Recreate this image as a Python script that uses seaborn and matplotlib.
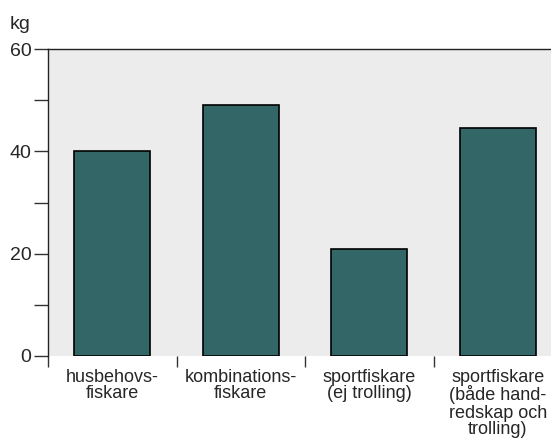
import matplotlib
matplotlib.use("Agg")
import matplotlib.pyplot as plt
import seaborn as sns
import pandas as pd
import numpy as np

# data
categories = ["husbehovs-\nfiskare", "kombinations-\nfiskare",
              "sportfiskare\n(ej trolling)",
              "sportfiskare\n(både hand-\nredskap och\ntrolling)"]
values = [40.0, 49.0, 21.0, 44.6]
y_ticks = [0, 10, 20, 30, 40, 50, 60]
y_labels = ["0", "", "20", "", "40", "", "60"]

df = pd.DataFrame({"grupp": categories, "kg": values})

sns.set_style("white")
plt.rcParams["font.family"] = ["Liberation Sans", "DejaVu Sans"]

fig = plt.figure(figsize=(5.51, 4.41), dpi=100)
ax = fig.add_axes([48 / 551, 1 - 356 / 441, 514 / 551, 307 / 441])
ax.set_facecolor("#ececec")

sns.barplot(data=df, x="grupp", y="kg", color="#336666", saturation=1,
            width=0.59, edgecolor="black", linewidth=1.2, ax=ax)

ax.set_xlim(-0.5, 3.5)
ax.set_ylim(0, 60)
ax.set_yticks(y_ticks)
ax.set_yticklabels(y_labels, fontsize=14)
ax.tick_params(axis="y", direction="out", length=10, width=1, color="#333333",
               pad=2, left=True)

# category labels at bar centres, tick marks at category boundaries
ax.set_xticks(range(len(categories)))
ax.set_xticklabels(categories, fontsize=13, linespacing=1.0)
ax.tick_params(axis="x", which="major", length=0, pad=9)
ax.set_xticks(np.arange(-0.5, len(categories)), minor=True)
ax.tick_params(axis="x", which="minor", direction="out", length=8, width=1,
               color="#333333", bottom=True)

ax.set_xlabel("")
ax.set_ylabel("")
for side in ["bottom", "right"]:
    ax.spines[side].set_visible(False)
for side in ["left", "top"]:
    ax.spines[side].set_visible(True)
    ax.spines[side].set_color("#222222")
    ax.spines[side].set_linewidth(1)

fig.text(10 / 551, 1 - 29 / 441, "kg", fontsize=14, ha="left", va="baseline")

fig.savefig("out.png", dpi=100)
